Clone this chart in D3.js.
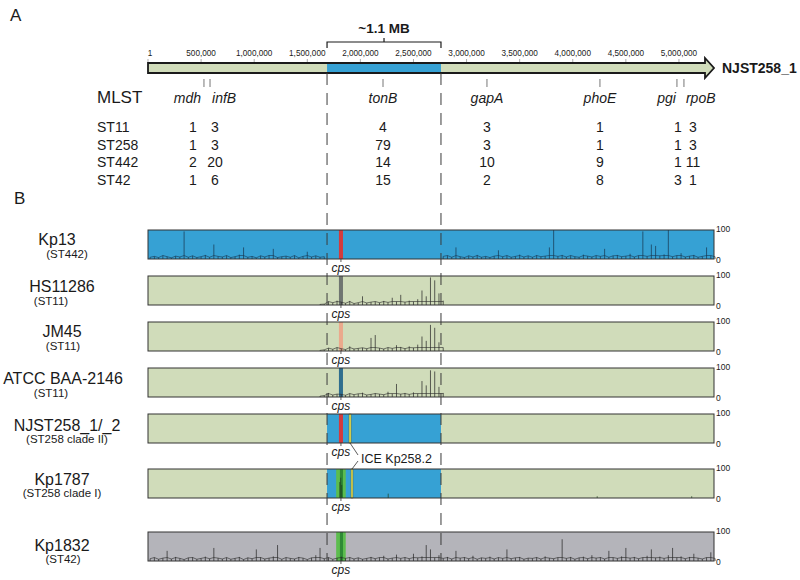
<!DOCTYPE html>
<html><head><meta charset="utf-8">
<script src="https://cdn.jsdelivr.net/npm/d3@7"></script>
<style>
body{margin:0;background:#fff}
svg{display:block}
text{font-family:"Liberation Sans",Arial,Helvetica,sans-serif;fill:#1a1a1a}
</style>
</head><body>
<svg id="c" width="800" height="580"></svg>
<script>
// ---------------- DATA ----------------
const genomeLength = 5330000;
const regionStart = 1686000;
const regionEnd = 2759000;
const regionLabel = "~1.1 MB";
const referenceName = "NJST258_1";

const axisTicks = [1, 500000, 1000000, 1500000, 2000000, 2500000, 3000000, 3500000, 4000000, 4500000, 5000000];
const axisTickLabels = ["1", "500,000", "1,000,000", "1,500,000", "2,000,000", "2,500,000", "3,000,000", "3,500,000", "4,000,000", "4,500,000", "5,000,000"];

const mlstGenes = ["mdh", "infB", "tonB", "gapA", "phoE", "pgi", "rpoB"];
const mlstGenePos = [527000, 584000, 2213000, 3192000, 4256000, 4981000, 5047000];

const stTypes = ["ST11", "ST258", "ST442", "ST42"];
const allelesST11  = [1, 3, 4, 3, 1, 1, 3];
const allelesST258 = [1, 3, 79, 3, 1, 1, 3];
const allelesST442 = [2, 20, 14, 10, 9, 1, 11];
const allelesST42  = [1, 6, 15, 2, 8, 3, 1];

const trackNames = ["Kp13", "HS11286", "JM45", "ATCC BAA-2146", "NJST258_1/_2", "Kp1787", "Kp1832"];
const trackSTs = ["(ST442)", "(ST11)", "(ST11)", "(ST11)", "(ST258 clade II)", "(ST258 clade I)", "(ST42)"];
// backbone origin: whole genome like ST442, like ST11, ST11 + ST442 1.1 Mb insert (hybrid), ST42
const trackBackbone = ["ST442", "ST11", "ST11", "ST11", "hybrid", "hybrid", "ST42"];
const trackCpsType = ["cpsA", "cpsB", "cpsC", "cpsD", "cpsA", "cpsE", "cpsE"];

const cpsStart = 1798000, cpsEnd = 1836000;
const cpsWideStart = 1772000, cpsWideEnd = 1862000;
const iceNJST = [1893000, 1912000];
const iceKp1787 = [1912000, 1930000];
const iceLabel = "ICE Kp258.2";

// SNP density (0-100), 40 kb bins
const binSize = 40000;
const depthKp13 = [6,9,5,12,8,4,10,7,95,6, 11,5,8,14,6,50,9,7,12,5, 8,15,40,6,9,4,11,7,13,35, 5,8,10,6,12,4,9,25,7,11, 6,8,
  null,null,null,null,null,null,null,null,null,null,null,null,null,null,null,null,null,null,null,null,null,null,null,null,null,null,null,
  9,12,6,40,8,5,11,7,14,6,9, 5,10,30,8,12,6,9,15,7,11, 6,13,8,10,40,100,9,14,7,12, 8,6,15,10,7,12,9,35,6,11,
  14,8,10,18,7,12,95,9,50,45, 11,16,100,8,12,20,7,10,14,6, 9,40,12,8];
const depthHS11286 = [2,3,12,8,15,10,6,14,5,8, 30,7,10,12,8,14,9,25,12,35, 10,15,12,20,50,30,95,85,40,15];
const depthJM45    = [2,4,10,6,12,8,5,16,7,9, 11,8,45,55,10,7,12,9,20,14, 8,16,11,22,50,35,90,80,30,12];
const depthATCC    = [3,5,14,7,10,9,6,12,8,11, 15,7,9,13,10,8,18,12,45,10, 14,9,16,12,55,40,92,88,35,14];
const depthKp1832 = [8,12,6,10,35,7,14,9,5,11, 13,6,9,15,8,45,10,7,12,6, 9,14,5,11,8,40,13,7,10,16,
  55,6,12,9,7,14,10,5,11,20, 45,8,12,6,10,15,9,13,7,11, 6,9,14,8,12,18,7,10,22,9,
  13,8,25,11,16,55,40,12,20,9, 14,7,35,10,13,8,18,6,11,9, 15,7,12,9,40,8,11,14,6,10,
  9,13,7,16,10,8,12,75,9,14, 6,11,15,8,20,10,13,7,35,12, 9,16,45,10,14,8,12,18,40,11,
  15,9,20,45,12,16,8,14,25,10, 7,12,30,9];
const spikesKp1787 = [[1806000, 55], [1815000, 70], [1824000, 45], [2262000, 15], [4230000, 6], [5120000, 6]];
const trackDepth = [depthKp13, depthHS11286, depthJM45, depthATCC, null, null, depthKp1832];
const trackDepthStartBin = [0, 40, 40, 40, 0, 0, 0];

// ---------------- LAYOUT ----------------
const svg = d3.select("#c");
const x = d3.scaleLinear().domain([0, genomeLength]).range([148, 714]);
const COL = {blue: "#36a1d4", green: "#d0dcba", gray: "#b4b4ba"};
const backboneColor = {ST442: COL.blue, ST11: COL.green, hybrid: COL.green, ST42: COL.gray};
const cpsColor = {cpsA: "#d43a3c", cpsB: "#6f7571", cpsC: "#eba98c", cpsD: "#2f6e8e", cpsE: "#5cbd4e"};

// panel labels
svg.append("text").attr("x", 10).attr("y", 21).attr("font-size", 17).text("A");
svg.append("text").attr("x", 14).attr("y", 204).attr("font-size", 17).text("B");

// ---- top reference bar ----
const barY = 63, barH = 10, headW = 9;
const xEnd = x(genomeLength);
const barPath = `M${x(0)},${barY} H${xEnd - headW} V${barY - 5} L${xEnd},${barY + barH / 2} L${xEnd - headW},${barY + barH + 5} V${barY + barH} H${x(0)} Z`;
svg.append("path").attr("d", barPath).attr("fill", COL.green);
svg.append("rect").attr("x", x(regionStart)).attr("y", barY).attr("width", x(regionEnd) - x(regionStart)).attr("height", barH).attr("fill", COL.blue);
svg.append("path").attr("d", barPath).attr("fill", "none").attr("stroke", "#1a1a1a").attr("stroke-width", 1.8).attr("stroke-linejoin", "miter");
svg.append("text").attr("x", xEnd + 8).attr("y", barY + barH / 2 + 5).attr("font-size", 14).attr("font-weight", "bold").text(referenceName);

// axis tick labels
const tg = svg.append("g");
tg.selectAll("line").data(axisTicks).join("line")
  .attr("x1", d => x(d)).attr("x2", d => x(d)).attr("y1", barY - 4).attr("y2", barY - 1)
  .attr("stroke", "#888").attr("stroke-width", 0.7);
tg.selectAll("text").data(axisTicks).join("text")
  .attr("x", (d, i) => x(d) + (i === 0 ? 2 : 0)).attr("y", 56).attr("text-anchor", "middle")
  .attr("font-size", 8.2).attr("fill", "#333").text((d, i) => axisTickLabels[i]);

// bracket
const bx0 = x(regionStart), bx1 = x(regionEnd), bxm = (bx0 + bx1) / 2;
svg.append("path").attr("d", `M${bx0},48 V42 H${bx1} V48 M${bxm},42 V38`).attr("fill", "none").attr("stroke", "#1a1a1a").attr("stroke-width", 1.2);
svg.append("text").attr("x", bxm).attr("y", 33).attr("text-anchor", "middle").attr("font-size", 13.5).attr("font-weight", "bold").text(regionLabel);

// ---- MLST ----
svg.append("text").attr("x", 97).attr("y", 103).attr("font-size", 17).text("MLST");
const geneG = svg.append("g");
geneG.selectAll("line").data(mlstGenePos).join("line")
  .attr("x1", d => x(d)).attr("x2", d => x(d)).attr("y1", 79).attr("y2", 87)
  .attr("stroke", "#777").attr("stroke-width", 1);
const labelAnchor = {mdh: "end", infB: "start", pgi: "end", rpoB: "start"};
const labelShift = {mdh: -3, infB: 2, pgi: -1, rpoB: 2};
geneG.selectAll("text").data(mlstGenes).join("text")
  .attr("x", (g, i) => x(mlstGenePos[i]) + (labelShift[g] || 0))
  .attr("y", 103).attr("font-size", 14).attr("font-style", "italic")
  .attr("text-anchor", g => labelAnchor[g] || "middle").text(g => g);

const alleleRows = [allelesST11, allelesST258, allelesST442, allelesST42];
const colShift = {mdh: -11, infB: 5, pgi: 1, rpoB: 9};
alleleRows.forEach((row, r) => {
  const yy = 132 + r * 17.5;
  svg.append("text").attr("x", 97).attr("y", yy).attr("font-size", 14).text(stTypes[r]);
  row.forEach((v, i) => {
    svg.append("text").attr("x", x(mlstGenePos[i]) + (colShift[mlstGenes[i]] || 0)).attr("y", yy)
      .attr("text-anchor", "middle").attr("font-size", 14).text(v);
  });
});

// ---- tracks ----
const panelTops = [230, 276, 322, 368, 414, 469, 532];
const panelH = 29;
const nameY = [[245, 258], [292, 305], [337, 350], [384, 397], [431, 443], [485, 497], [551, 563]];
const nameX = [[57, 67], [62, 51], [62, 63], [63, 51], [67, 67], [62, 62], [62, 63]];

trackNames.forEach((name, t) => {
  const top = panelTops[t], bot = top + panelH;
  const g = svg.append("g");
  const y = d3.scaleLinear().domain([0, 100]).range([bot, top]);
  g.append("rect").attr("x", x(0)).attr("y", top).attr("width", x(genomeLength) - x(0)).attr("height", panelH)
    .attr("fill", backboneColor[trackBackbone[t]]);
  if (trackBackbone[t] === "hybrid") {
    g.append("rect").attr("x", x(regionStart)).attr("y", top).attr("width", x(regionEnd) - x(regionStart)).attr("height", panelH)
      .attr("fill", COL.blue);
  }
  // cps
  const ct = trackCpsType[t];
  if (ct === "cpsE") {
    g.append("rect").attr("x", x(cpsWideStart)).attr("y", top).attr("width", x(cpsWideEnd) - x(cpsWideStart)).attr("height", panelH)
      .attr("fill", cpsColor.cpsE);
    g.append("rect").attr("x", x(cpsStart) + 1).attr("y", top).attr("width", x(cpsEnd) - x(cpsStart) - 1).attr("height", panelH)
      .attr("fill", "#2f8a36");
  } else {
    g.append("rect").attr("x", x(cpsStart)).attr("y", top).attr("width", x(cpsEnd) - x(cpsStart)).attr("height", panelH)
      .attr("fill", cpsColor[ct]);
  }
  // ICE
  const ice = t === 4 ? iceNJST : (t === 5 ? iceKp1787 : null);
  if (ice) {
    g.append("rect").attr("x", x(ice[0])).attr("y", top).attr("width", x(ice[1]) - x(ice[0])).attr("height", panelH)
      .attr("fill", "#f0ea55").attr("stroke", "#5a5a2a").attr("stroke-width", 0.5);
  }
  // density trace: spikes per bin + thin connecting line
  const dep = trackDepth[t];
  if (dep) {
    const stroke = t === 0 ? "#173650" : "#262626";
    const pts = dep.map((v, i) => ({p: (trackDepthStartBin[t] + i + 0.5) * binSize, v}));
    g.selectAll("line.spk").data(pts.filter(d => d.v !== null)).join("line").attr("class", "spk")
      .attr("x1", d => x(d.p)).attr("x2", d => x(d.p)).attr("y1", bot).attr("y2", d => y(d.v))
      .attr("stroke", stroke).attr("stroke-width", 0.8).attr("stroke-opacity", 0.9);
    const low = d3.line().defined(d => d.v !== null).x(d => x(d.p)).y(d => y(Math.min(d.v, 12)));
    g.append("path").attr("d", low(pts)).attr("fill", "none")
      .attr("stroke", stroke).attr("stroke-width", 0.7).attr("stroke-opacity", 0.85);
  }
  if (t === 5) {
    g.selectAll("line.sp").data(spikesKp1787).join("line")
      .attr("x1", d => x(d[0])).attr("x2", d => x(d[0])).attr("y1", bot).attr("y2", d => y(d[1]))
      .attr("stroke", "#1d3d1d").attr("stroke-width", 0.7);
  }
  g.append("rect").attr("x", x(0)).attr("y", top).attr("width", x(genomeLength) - x(0)).attr("height", panelH)
    .attr("fill", "none").attr("stroke", "#333").attr("stroke-width", 1);
  // right axis labels
  g.append("text").attr("x", 716).attr("y", top + 2).attr("font-size", 8.5).attr("fill", "#333").text("100");
  g.append("text").attr("x", 716).attr("y", bot + 4).attr("font-size", 8.5).attr("fill", "#333").text("0");
  // cps label
  const cx = x((cpsStart + cpsEnd) / 2);
  g.append("line").attr("x1", cx).attr("x2", cx).attr("y1", bot).attr("y2", bot + 3).attr("stroke", "#333").attr("stroke-width", 0.8);
  g.append("text").attr("x", cx).attr("y", bot + 13).attr("text-anchor", "middle").attr("font-size", 12).attr("font-style", "italic").text("cps");
  // names
  svg.append("text").attr("x", nameX[t][0]).attr("y", nameY[t][0]).attr("text-anchor", "middle").attr("font-size", 16).text(name);
  svg.append("text").attr("x", nameX[t][1]).attr("y", nameY[t][1]).attr("text-anchor", "middle").attr("font-size", 11.5).text(trackSTs[t]);
});

// ICE label with leader lines
{
  const b4 = panelTops[4] + panelH, t5 = panelTops[5];
  const ix1 = x((iceNJST[0] + iceNJST[1]) / 2), ix2 = x((iceKp1787[0] + iceKp1787[1]) / 2);
  const jx = ix1 + 8;
  svg.append("path").attr("d", `M${ix1},${b4} L${jx},${b4 + 12} M${jx},${b4 + 18} L${ix2},${t5}`)
    .attr("fill", "none").attr("stroke", "#333").attr("stroke-width", 0.8);
  svg.append("text").attr("x", jx + 3).attr("y", b4 + 20).attr("font-size", 12.5).text(iceLabel);
}

// dashed region boundaries
[regionStart, regionEnd].forEach(p => {
  svg.append("line").attr("x1", x(p)).attr("x2", x(p)).attr("y1", barY + barH).attr("y2", panelTops[6] + panelH)
    .attr("stroke", "#3a3a3a").attr("stroke-width", 1).attr("stroke-dasharray", "12,8");
});
</script>
</body></html>
